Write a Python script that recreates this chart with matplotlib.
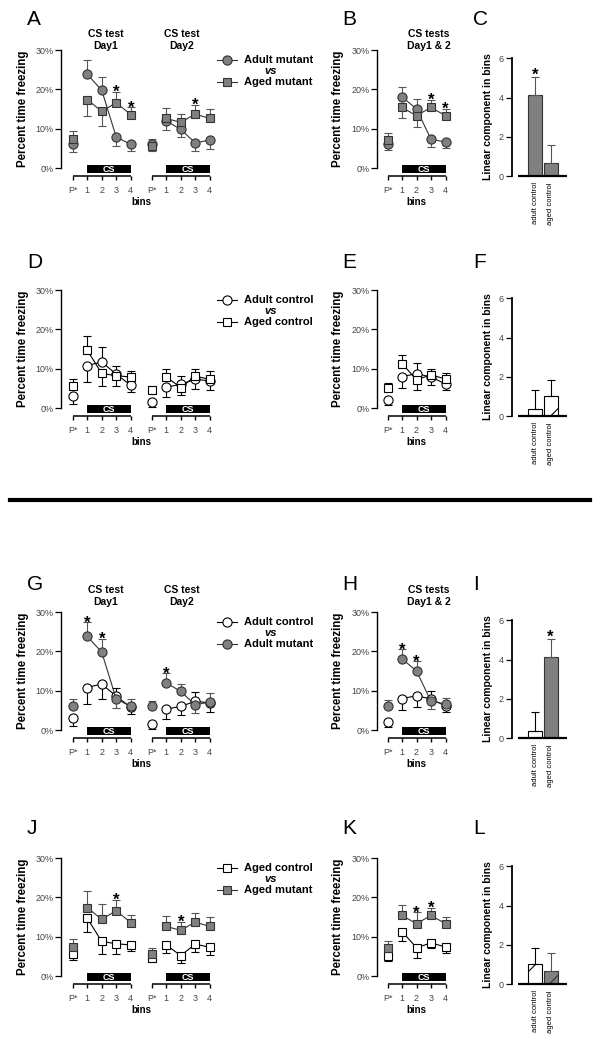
import matplotlib
matplotlib.use("Agg")
import matplotlib.pyplot as plt
from matplotlib.lines import Line2D
from matplotlib.patches import Rectangle
import numpy as np

plt.rcParams['font.family'] = ['Liberation Sans', 'DejaVu Sans']
plt.rcParams['hatch.linewidth'] = 0.8

W, H = 600, 1043

# ---- data: percent time freezing per bin (P*, 1..4), mean and sem ----
bin_labels = ["P*", "1", "2", "3", "4"]
pct_ticks = [0, 10, 20, 30]

adult_mutant_day1 = [6.0, 23.8, 19.8, 7.9, 6.0]
adult_mutant_day1_sem = [1.9, 3.6, 3.4, 2.4, 1.8]
adult_mutant_day2 = [6.1, 12.0, 9.8, 6.4, 7.1]
adult_mutant_day2_sem = [1.2, 2.4, 2.0, 2.2, 2.3]
adult_mutant_all = [6.1, 18.1, 15.0, 7.3, 6.6]
adult_mutant_all_sem = [1.5, 2.4, 2.5, 1.9, 1.5]

aged_mutant_day1 = [7.3, 17.4, 14.4, 16.6, 13.6]
aged_mutant_day1_sem = [2.2, 4.2, 3.8, 2.8, 1.9]
aged_mutant_day2 = [5.7, 12.6, 11.6, 13.7, 12.6]
aged_mutant_day2_sem = [1.3, 2.7, 2.2, 2.4, 2.5]
aged_mutant_all = [7.2, 15.4, 13.3, 15.4, 13.3]
aged_mutant_all_sem = [1.8, 2.7, 2.9, 2.0, 1.8]

adult_control_day1 = [3.0, 10.8, 11.7, 8.6, 5.8]
adult_control_day1_sem = [2.1, 4.2, 3.8, 2.2, 1.7]
adult_control_day2 = [1.4, 5.3, 6.0, 7.3, 6.9]
adult_control_day2_sem = [1.1, 2.6, 2.2, 2.4, 2.4]
adult_control_all = [2.1, 8.0, 8.7, 7.9, 6.1]
adult_control_all_sem = [1.4, 2.8, 2.8, 2.0, 1.5]

aged_control_day1 = [5.7, 14.7, 8.8, 8.2, 7.9]
aged_control_day1_sem = [1.6, 3.6, 3.2, 2.6, 1.5]
aged_control_day2 = [4.7, 7.9, 5.2, 8.1, 7.3]
aged_control_day2_sem = [0.6, 2.1, 2.0, 1.9, 2.0]
aged_control_all = [5.1, 11.3, 7.2, 8.4, 7.4]
aged_control_all_sem = [1.3, 2.3, 2.5, 1.4, 1.6]

# linear component in bins
bar_labels = ["adult control", "aged control"]
adult_mutant_lin, adult_mutant_lin_sem = 4.15, 0.9
aged_mutant_lin, aged_mutant_lin_sem = 0.65, 0.95
adult_control_lin, adult_control_lin_sem = 0.38, 0.97
aged_control_lin, aged_control_lin_sem = 1.0, 0.82

DATA = {
    'Adult mutant': {'day1': (adult_mutant_day1, adult_mutant_day1_sem),
                     'day2': (adult_mutant_day2, adult_mutant_day2_sem),
                     'all': (adult_mutant_all, adult_mutant_all_sem),
                     'lin': (adult_mutant_lin, adult_mutant_lin_sem)},
    'Aged mutant': {'day1': (aged_mutant_day1, aged_mutant_day1_sem),
                    'day2': (aged_mutant_day2, aged_mutant_day2_sem),
                    'all': (aged_mutant_all, aged_mutant_all_sem),
                    'lin': (aged_mutant_lin, aged_mutant_lin_sem)},
    'Adult control': {'day1': (adult_control_day1, adult_control_day1_sem),
                      'day2': (adult_control_day2, adult_control_day2_sem),
                      'all': (adult_control_all, adult_control_all_sem),
                      'lin': (adult_control_lin, adult_control_lin_sem)},
    'Aged control': {'day1': (aged_control_day1, aged_control_day1_sem),
                     'day2': (aged_control_day2, aged_control_day2_sem),
                     'all': (aged_control_all, aged_control_all_sem),
                     'lin': (aged_control_lin, aged_control_lin_sem)},
}

# rows: (letters, compared groups, star bins day1, day2, combined, starred bars)
rows = [
    ('ABC', ('Adult mutant', 'Aged mutant'), [3, 4], [3], [3, 4], [0]),
    ('DEF', ('Adult control', 'Aged control'), [], [], [], []),
    ('GHI', ('Adult control', 'Adult mutant'), [1, 2], [1], [1, 2], [1]),
    ('JKL', ('Aged control', 'Aged mutant'), [3], [2], [2, 3], []),
]
show_titles = [True, False, True, False]
title_y = [(34.1, 31.0), None, (35.6, 32.6), None]
row_off = [0, 240, 562, 808]
letter_top = [10, 253, 575, 819]

GRAY = '#808080'
STYLE = {
    'Adult mutant': dict(marker='o', ms=6.6, mfc=GRAY, mec='#333333', lc='#333333', ec='#555555'),
    'Aged mutant': dict(marker='s', ms=6.0, mfc=GRAY, mec='#333333', lc='#333333', ec='#555555'),
    'Adult control': dict(marker='o', ms=6.6, mfc='white', mec='black', lc='black', ec='black'),
    'Aged control': dict(marker='s', ms=6.0, mfc='white', mec='black', lc='black', ec='black'),
}

BIN_PX = 14.5
TICK_COL = '#444444'

fig = plt.figure(figsize=(W / 100, H / 100), dpi=100)


def rect(x0, y0, x1, y1):
    return [x0 / W, 1 - y1 / H, (x1 - x0) / W, (y1 - y0) / H]


def fx(x):
    return x / W


def fy(y):
    return 1 - y / H


def make_line_axes(origin_px, xlim, off):
    x0 = origin_px + xlim[0] * BIN_PX
    x1 = origin_px + xlim[1] * BIN_PX
    ax = fig.add_axes(rect(x0, 50 + off, x1, 168 + off))
    ax.set_xlim(*xlim)
    ax.set_ylim(0, 30)
    for sp in ('top', 'right', 'bottom'):
        ax.spines[sp].set_visible(False)
    ax.spines['left'].set_linewidth(1.0)
    ax.set_xticks([])
    ax.set_yticks(pct_ticks)
    ax.set_yticklabels([f'{t}%' for t in pct_ticks])
    ax.tick_params(axis='y', length=4, width=0.9, pad=1.5, labelsize=6.5, labelcolor=TICK_COL)
    ax.patch.set_alpha(0)
    return ax


def bin_axis(ax, xs):
    ax.plot([xs[0], xs[-1]], [-2.0, -2.0], color='k', lw=1.1, clip_on=False, solid_capstyle='butt')
    ax.vlines(xs, -3.0, -2.0, color='k', lw=1.0, clip_on=False)
    for x, lab in zip(xs, bin_labels):
        ax.text(x, -5.8, lab, ha='center', va='center', fontsize=6.5, color=TICK_COL)
    ax.add_patch(Rectangle((xs[1], -1.35), xs[4] - xs[1], 2.1, facecolor='k',
                           edgecolor='none', clip_on=False, zorder=1))
    ax.text((xs[1] + xs[4]) / 2, -0.3, 'CS', ha='center', va='center', color='white',
            fontsize=6.5, fontweight='bold', zorder=1.5)


def draw_pair(ax, xs, names, key, star_bins):
    vals = [(np.array(DATA[n][key][0]), np.array(DATA[n][key][1])) for n in names]
    tops = []
    for k, n in enumerate(names):
        m, e = vals[k]
        other = vals[1 - k][0]
        st = STYLE[n]
        up = m >= other
        lo = np.where(up, 0, e)
        hi = np.where(up, e, 0)
        z = 3 + k
        ax.errorbar(xs, m, yerr=[lo, hi], fmt='none', ecolor=st['ec'], elinewidth=0.8,
                    capsize=2.8, capthick=0.8, zorder=z, clip_on=False)
        ax.plot(xs[1:], m[1:], color=st['lc'], lw=0.8, zorder=z + 0.1)
        ax.plot(xs, m, linestyle='none', marker=st['marker'], ms=st['ms'], mfc=st['mfc'],
                mec=st['mec'], mew=0.8, zorder=z + 0.2, clip_on=False)
        tops.append(np.where(up, m + e, m))
    top = np.maximum(tops[0], tops[1])
    for b in star_bins:
        ax.text(xs[b], top[b] - 1.4, '*', ha='center', va='baseline', fontsize=12,
                fontweight='bold', zorder=8)


def legend(names, off):
    for n, y in zip(names, [60 + off, 82 + off]):
        st = STYLE[n]
        fig.add_artist(Line2D([fx(217), fx(237)], [fy(y), fy(y)], color=st['lc'], lw=0.8))
        fig.add_artist(Line2D([fx(227)], [fy(y)], marker=st['marker'], ms=st['ms'],
                              mfc=st['mfc'], mec=st['mec'], mew=0.8, linestyle='none'))
        fig.text(fx(244), fy(y), n, ha='left', va='center', fontsize=8, fontweight='bold')
    fig.text(fx(271), fy(71 + off), 'vs', ha='center', va='center', fontsize=8,
             fontweight='bold', fontstyle='italic')


def make_bar_axes(off):
    ax = fig.add_axes(rect(511.5, 58.3 + off, 567, 176 + off))
    ax.set_xlim(-1.52, 2.06)
    ax.set_ylim(0, 6)
    for sp in ('top', 'right', 'bottom'):
        ax.spines[sp].set_visible(False)
    ax.spines['left'].set_linewidth(1.3)
    ax.set_xticks([])
    ax.set_yticks([0, 2, 4, 6])
    ax.tick_params(axis='y', length=4, width=0.9, pad=1.5, labelsize=6.5, labelcolor=TICK_COL)
    ax.patch.set_alpha(0)
    return ax


day1_x = np.arange(5, dtype=float)
day2_x = day1_x + 5.45

for r, (letters, names, s_d1, s_d2, s_all, s_bar) in enumerate(rows):
    off = row_off[r]

    # left panel: two test days
    ax = make_line_axes(72.7, (-0.8, 9.8), off)
    draw_pair(ax, day1_x, names, 'day1', s_d1)
    draw_pair(ax, day2_x, names, 'day2', s_d2)
    bin_axis(ax, day1_x)
    bin_axis(ax, day2_x)
    ax.text((day1_x[0] + day2_x[-1]) / 2, -8.65, 'bins', ha='center', va='center',
            fontsize=7, fontweight='bold')
    if show_titles[r]:
        ty = title_y[r]
        for xc, day in [(day1_x[0] + 2.26, 'Day1'), (day2_x[0] + 2.09, 'Day2')]:
            ax.text(xc, ty[0], 'CS test', ha='center', va='center', fontsize=7.5, fontweight='bold')
            ax.text(xc, ty[1], day, ha='center', va='center', fontsize=7.5, fontweight='bold')
    fig.text(fx(23), fy(109 + off), 'Percent time freezing', rotation=90, ha='center',
             va='center', fontsize=8.3, fontweight='bold')
    legend(names, off)

    # middle panel: days combined
    ax = make_line_axes(387.5, (-0.69, 4.4), off)
    draw_pair(ax, day1_x, names, 'all', s_all)
    bin_axis(ax, day1_x)
    ax.text(day1_x[2], -8.65, 'bins', ha='center', va='center', fontsize=7, fontweight='bold')
    if show_titles[r]:
        ty = title_y[r]
        ax.text(2.86, ty[0], 'CS tests', ha='center', va='center', fontsize=7.5, fontweight='bold')
        ax.text(2.86, ty[1], 'Day1 & 2', ha='center', va='center', fontsize=7.5, fontweight='bold')
    fig.text(fx(338), fy(109 + off), 'Percent time freezing', rotation=90, ha='center',
             va='center', fontsize=8.3, fontweight='bold')

    # right panel: linear component bars
    ax = make_bar_axes(off)
    for i, n in enumerate(names):
        v, e = DATA[n]['lin']
        mutant = 'mutant' in n
        aged = 'Aged' in n
        ax.bar(i, v, width=0.9, color=GRAY if mutant else 'white',
               edgecolor='#333333' if mutant else 'black', lw=0.8,
               hatch='/' if aged else None, zorder=2)
        ax.errorbar(i, v, yerr=[[0], [e]], fmt='none', ecolor='#555555' if mutant else 'black',
                    elinewidth=0.8, capsize=2.8, capthick=0.8, zorder=3)
        if i in s_bar:
            ax.text(i, v + e - 0.16, '*', ha='center', va='baseline', fontsize=12,
                    fontweight='bold')
        ax.text(i, -0.32, bar_labels[i], rotation=90, ha='center', va='top', fontsize=5.5)
    ax.plot([-1.1, 2.06], [0, 0], color='k', lw=1.6, clip_on=False, zorder=4,
            solid_capstyle='butt')
    fig.text(fx(488), fy(117 + off), 'Linear component in bins', rotation=90, ha='center',
             va='center', fontsize=7.5, fontweight='bold')

    for lx, lt in zip([27, 342, 473], letters):
        fig.text(fx(lx), fy(letter_top[r]), lt, ha='left', va='top', fontsize=15)

# separator between the two halves
fig.add_artist(Line2D([fx(10), fx(590)], [fy(500), fy(500)], color='k', lw=3))

fig.savefig('out.png', dpi=100)
